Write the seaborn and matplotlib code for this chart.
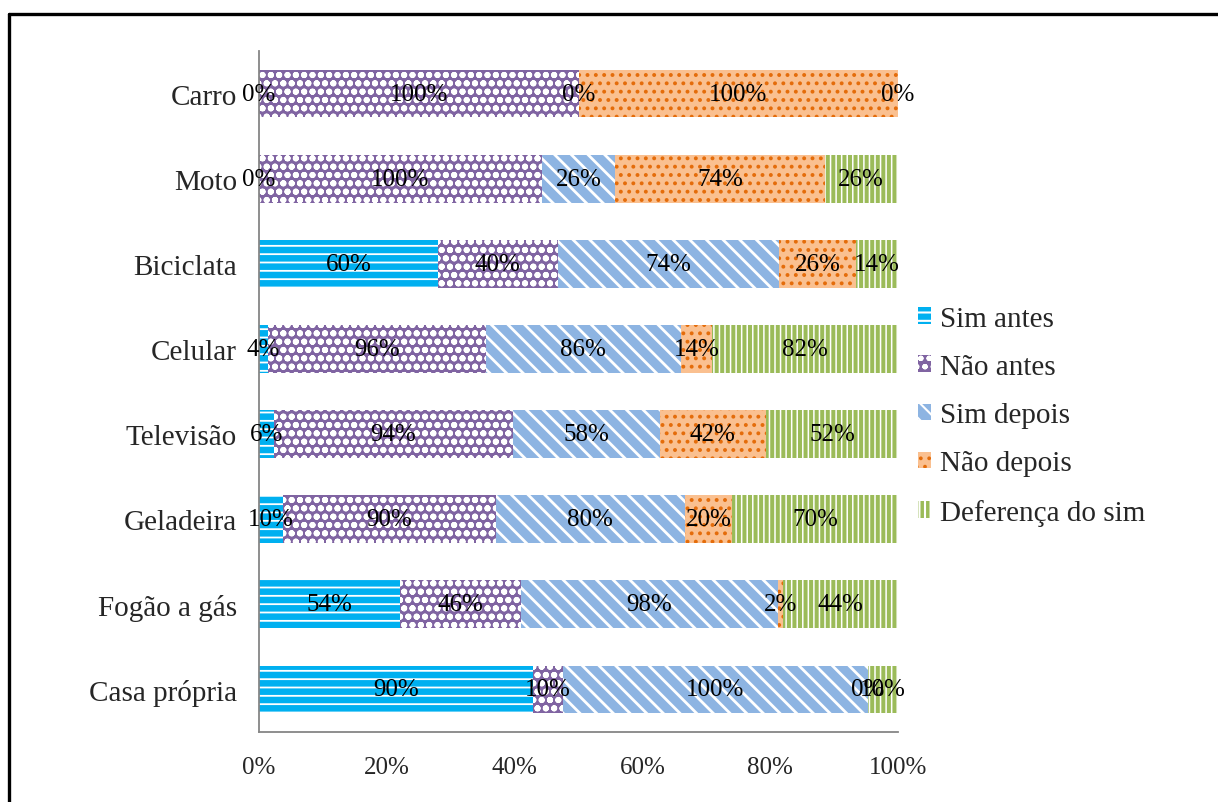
import numpy as np
import seaborn as sns
import matplotlib.pyplot as plt
from matplotlib.lines import Line2D
from matplotlib.patches import Patch

# Data (raw percentages shown as labels)
categorias = ['Carro', 'Moto', 'Biciclata', 'Celular', 'Televisão',
              'Geladeira', 'Fogão a gás', 'Casa própria']
series = ['Sim antes', 'Não antes', 'Sim depois', 'Não depois', 'Deferença do sim']
sim_antes = [0, 0, 60, 4, 6, 10, 54, 90]
nao_antes = [100, 100, 40, 96, 94, 90, 46, 10]
sim_depois = [0, 26, 74, 86, 58, 80, 98, 100]
nao_depois = [100, 74, 26, 14, 42, 20, 2, 0]
diferenca = [0, 26, 14, 82, 52, 70, 44, 10]
x_ticks = [0, 20, 40, 60, 80, 100]

# face colour, hatch colour, hatch, hatch linewidth
estilos = [
    ('#00B0F0', 'white', '--', 1.3),
    ('#8064A2', 'white', 'oo', 2.0),
    ('#8DB4E2', 'white', '\\\\', 2.0),
    ('#FAC090', '#E46C0A', '..', 1.6),
    ('#9BBB59', 'white', '|||', 1.1),
]

sns.set_style('white')
plt.rcParams['font.family'] = ['Liberation Serif', 'DejaVu Serif']
plt.rcParams['hatch.linewidth'] = 1.5

valores = np.array([sim_antes, nao_antes, sim_depois, nao_depois, diferenca], dtype=float)
totais = valores.sum(axis=0)
pct = valores / totais * 100
cum = np.cumsum(pct, axis=0)

fig = plt.figure(figsize=(12.18, 8.03), dpi=100)
ax = fig.add_axes([0.2127, 0.0872, 0.5246, 0.848])

# stacked bars: draw the cumulative totals from largest to smallest
for i in reversed(range(len(series))):
    face, hc, hatch, hlw = estilos[i]
    n_before = len(ax.patches)
    sns.barplot(x=cum[i], y=categorias, orient='h', color=face, saturation=1,
                width=0.56, hatch=hatch, edgecolor=hc, linewidth=0,
                errorbar=None, ax=ax)
    for p in ax.patches[n_before:]:
        if hasattr(p, 'set_hatch_linewidth'):
            p.set_hatch_linewidth(hlw)

# value labels centred on each segment
for i in range(len(series)):
    for j in range(len(categorias)):
        left = cum[i, j] - pct[i, j]
        ax.text(left + pct[i, j] / 2, j, f'{int(valores[i, j])}%',
                ha='center', va='center', fontsize=18, color='black')

ax.set_xlim(0, 100)
ax.set_ylim(len(categorias) - 0.5, -0.5)
ax.set_xticks(x_ticks)
ax.set_xticklabels([f'{t}%' for t in x_ticks], fontsize=18)
ax.set_yticks(range(len(categorias)))
ax.set_yticklabels(categorias, fontsize=21)
ax.tick_params(axis='x', length=0, pad=17.5)
ax.tick_params(axis='y', length=0, pad=16)
ax.set_xlabel('')
ax.set_ylabel('')

sns.despine(ax=ax, top=True, right=True)
for s in ['left', 'bottom']:
    ax.spines[s].set_color('#868686')
    ax.spines[s].set_linewidth(1.3)

handles = [Patch(facecolor=f, edgecolor=hc, hatch=h, linewidth=0)
           for f, hc, h, _ in estilos]
ax.legend(handles, series, loc='center left', bbox_to_anchor=(0.754, 0.481),
          bbox_transform=fig.transFigure, frameon=False, fontsize=21,
          handlelength=0.45, handleheight=0.5, handletextpad=0.3,
          labelspacing=0.76, borderpad=0, borderaxespad=0)

# outer frame (top and left only)
fig.add_artist(Line2D([0.0074, 1.0], [0.9813, 0.9813], color='black', lw=2.4,
                      transform=fig.transFigure))
fig.add_artist(Line2D([0.0074, 0.0074], [0.0, 0.9813], color='black', lw=2.4,
                      transform=fig.transFigure))

fig.savefig('out.png', dpi=100)
